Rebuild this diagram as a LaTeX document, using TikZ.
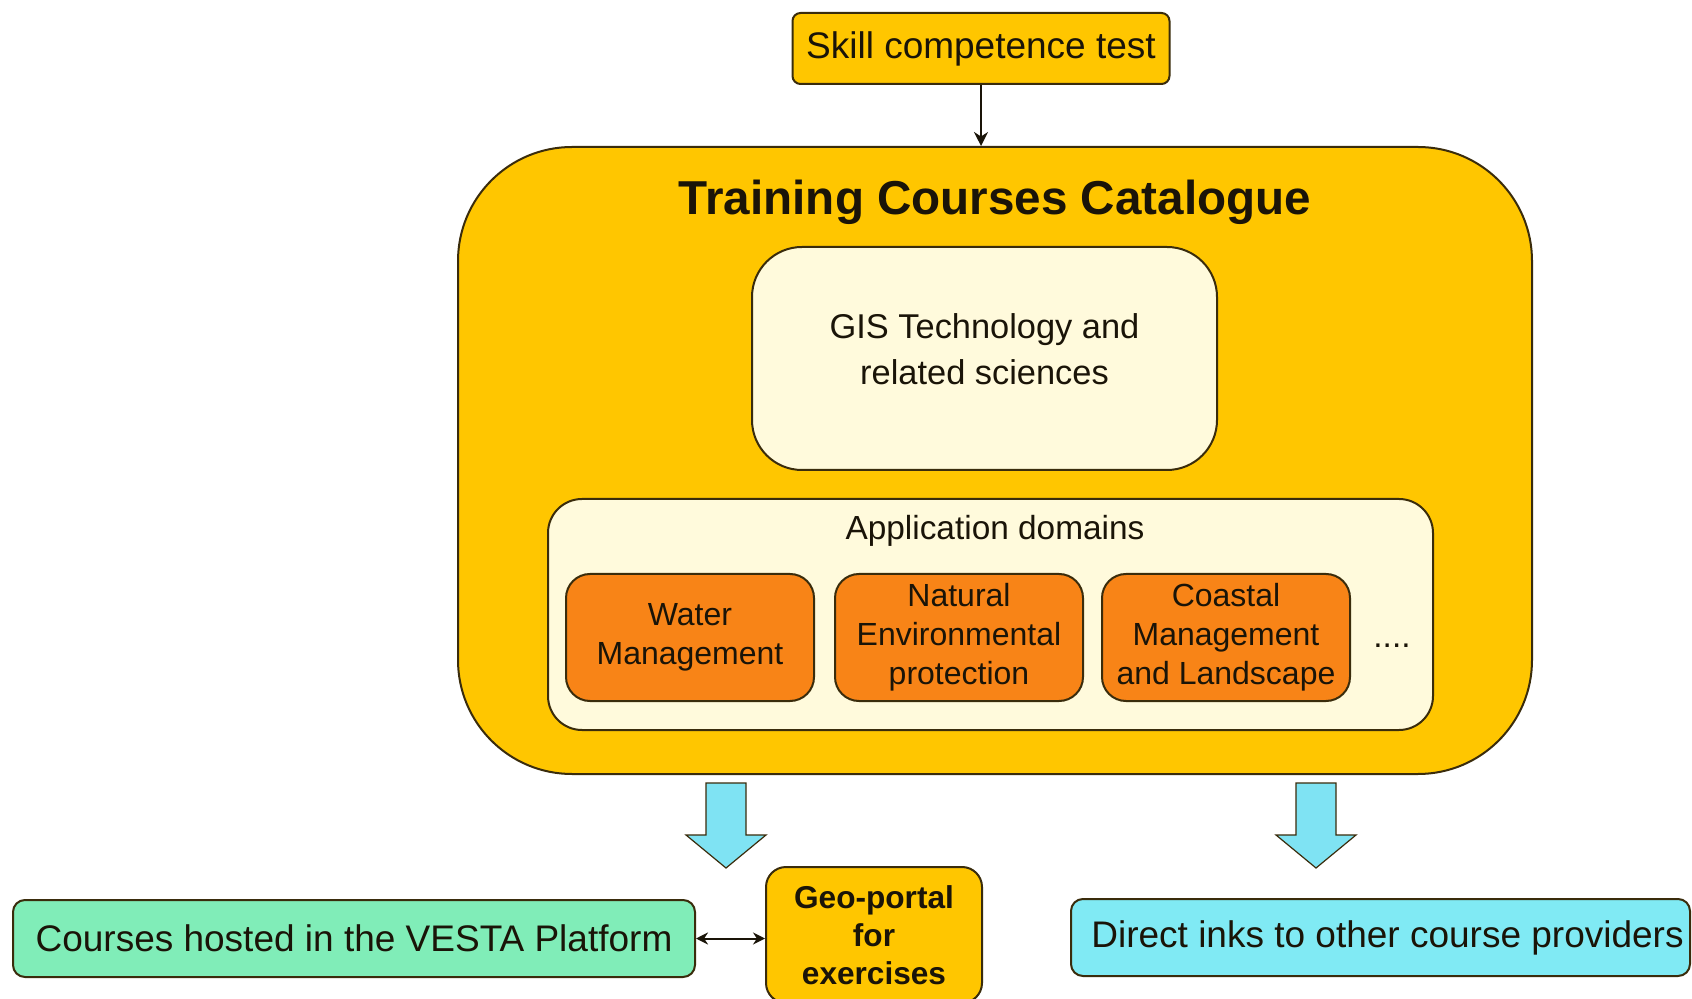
\documentclass[tikz,border=0pt]{standalone}
\usepackage{fontspec}
\setmainfont{Liberation Sans}
\usetikzlibrary{arrows.meta}
\definecolor{gold}{HTML}{FFC600}
\definecolor{cream}{HTML}{FFFADC}
\definecolor{orng}{HTML}{F88417}
\definecolor{skyarrow}{HTML}{7FE3F3}
\definecolor{mint}{HTML}{80EDB8}
\definecolor{cyanbox}{HTML}{80EAF4}
\definecolor{edge}{HTML}{3A2C0C}
\definecolor{txt}{HTML}{1A1408}
\tikzset{
  boxbase/.style={draw=edge, line width=1pt, align=center, inner sep=0pt, text=txt},
  mainfont/.style={font=\fontsize{18.5}{22}\selectfont},
  goldbox/.style={boxbase, fill=gold},
  creambox/.style={boxbase, fill=cream},
  domainbox/.style={boxbase, fill=orng, rounded corners=12pt, minimum width=124pt, minimum height=63.5pt, font=\fontsize{16}{19.5}\selectfont},
  bigarrow/.style={draw=edge, line width=0.6pt, fill=skyarrow},
  thinarrow/.style={draw=txt, line width=1pt}
}
\begin{document}
\begin{tikzpicture}[x=0.5pt,y=-0.5pt]
\useasboundingbox[fill=white] (0,0) rectangle (1692,999);

% Skill competence test
\node[goldbox, mainfont, rounded corners=4pt, minimum width=188.5pt, minimum height=35.5pt] (skill) at (981,48.5) {Skill competence test};

% Catalogue
\node[goldbox, rounded corners=57pt, minimum width=537pt, minimum height=313.5pt] (catalog) at (995,460.5) {};
\node[text=txt, font=\fontsize{23.8}{28}\selectfont\bfseries] (title) at (995,202) {Training Courses Catalogue};

% GIS
\node[creambox, rounded corners=25pt, minimum width=232.5pt, minimum height=111.5pt, text depth=9.5pt, font=\fontsize{17.2}{23}\selectfont] (gis) at (984.5,358.5) {GIS Technology and\\related sciences};

% Application domains
\node[creambox, rounded corners=17pt, minimum width=442.5pt, minimum height=115.5pt] (app) at (990.5,614.5) {};
\node[text=txt, font=\fontsize{16.7}{20}\selectfont] (apptitle) at (995,531) {Application domains};

\node[domainbox] (water) at (690,637.5) {Water\\Management};
\node[domainbox] (natural) at (959,637.5) {Natural\\Environmental\\protection};
\node[domainbox] (coastal) at (1226,637.5) {Coastal\\Management\\and Landscape};
\node[text=txt, font=\fontsize{16.7}{20}\selectfont] (dots) at (1392,646) {....};

% connector skill -> catalogue
\draw[thinarrow, -{Stealth[length=7pt,width=7pt]}] (skill.south) -- (skill.south |- catalog.north);

% block arrows
\coordinate (la) at (726,783);
\coordinate (ra) at (1316,783);
\draw[bigarrow] ([xshift=-10pt]la) -- ([xshift=10pt]la) -- ([xshift=10pt,yshift=-26pt]la) -- ([xshift=20pt,yshift=-26pt]la) -- ([yshift=-42.5pt]la) -- ([xshift=-20pt,yshift=-26pt]la) -- ([xshift=-10pt,yshift=-26pt]la) -- cycle;
\draw[bigarrow] ([xshift=-10pt]ra) -- ([xshift=10pt]ra) -- ([xshift=10pt,yshift=-26pt]ra) -- ([xshift=20pt,yshift=-26pt]ra) -- ([yshift=-42.5pt]ra) -- ([xshift=-20pt,yshift=-26pt]ra) -- ([xshift=-10pt,yshift=-26pt]ra) -- cycle;

% bottom boxes
\node[boxbase, fill=mint, mainfont, rounded corners=6pt, minimum width=341pt, minimum height=38.5pt] (courses) at (354,938.5) {Courses hosted in the VESTA Platform};
\node[goldbox, rounded corners=10pt, minimum width=108pt, minimum height=68pt, font=\fontsize{15.8}{19}\selectfont\bfseries] (geo) at (874,935) {Geo-portal\\for\\exercises};
\node[boxbase, fill=cyanbox, mainfont, rounded corners=6pt, minimum width=309.5pt, minimum height=38.5pt] (direct) at (1380.5,937.5) {\hspace*{7pt}Direct inks to other course providers};

\draw[thinarrow, {Stealth[length=6pt,width=6pt]}-{Stealth[length=6pt,width=6pt]}] (courses.east) -- (courses.east -| geo.west);
\end{tikzpicture}
\end{document}
